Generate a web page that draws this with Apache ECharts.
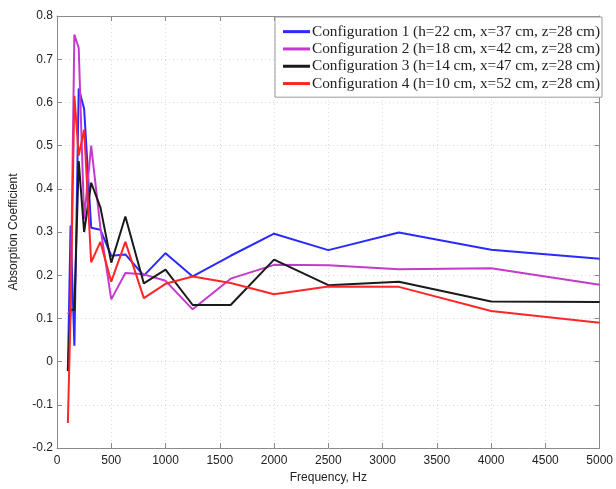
<!DOCTYPE html>
<html>
<head>
<meta charset="utf-8">
<script src="https://cdn.jsdelivr.net/npm/echarts@6/dist/echarts.min.js"></script>
<style>
html,body{margin:0;padding:0;background:#fff;}
#chart{width:616px;height:489px;}
</style>
</head>
<body>
<div id="chart"></div>
<script>
var freqs = [100,125,160,200,250,315,400,500,630,800,1000,1250,1600,2000,2500,3150,4000,5000];
var config1 = [-0.02,0.315,0.037,0.632,0.585,0.31,0.305,0.245,0.248,0.199,0.251,0.197,0.245,0.296,0.258,0.299,0.259,0.238];
var config2 = [0.11,0.12,0.757,0.726,0.33,0.5,0.31,0.144,0.205,0.202,0.187,0.121,0.192,0.224,0.223,0.214,0.216,0.178];
var config3 = [-0.022,0.12,0.12,0.464,0.30,0.414,0.357,0.229,0.336,0.181,0.213,0.131,0.131,0.236,0.177,0.185,0.139,0.138];
var config4 = [-0.142,0.11,0.615,0.477,0.537,0.23,0.277,0.185,0.277,0.147,0.18,0.197,0.182,0.156,0.174,0.173,0.117,0.09];
var seriesNames = [
  'Configuration 1 (h=22 cm, x=37 cm, z=28 cm)',
  'Configuration 2 (h=18 cm, x=42 cm, z=28 cm)',
  'Configuration 3 (h=14 cm, x=47 cm, z=28 cm)',
  'Configuration 4 (h=10 cm, x=52 cm, z=28 cm)'
];
var seriesColors = ['#2a2aff','#c43acc','#1a1a1a','#ff2626'];
var seriesData = [config1, config2, config3, config4];

function pairs(vals){ return freqs.map(function(f,i){ return [f, vals[i]]; }); }

var chart = echarts.init(document.getElementById('chart'), null, {renderer:'canvas'});
var axisColor = '#8a8a8a';
var labelStyle = {color:'#222', fontFamily:'Liberation Sans, Arial, sans-serif', fontSize:12};
var option = {
  animation:false,
  backgroundColor:'#fff',
  grid:{left:56, right:15, top:16, bottom:35},
  legend:{
    orient:'vertical', right:14, top:17,
    backgroundColor:'#fff', borderColor:'#9a9a9a', borderWidth:1,
    padding:[7,2,6,8],
    itemWidth:27, itemHeight:3, itemGap:2,
    icon:'rect',
    textStyle:{fontFamily:'Liberation Serif, Times New Roman, serif', fontSize:15.3, color:'#222', padding:[0,0,0,-3], lineHeight:15.3},
    data:seriesNames
  },
  xAxis:[{
    type:'value', min:0, max:5000, interval:500,
    name:'Frequency, Hz', nameLocation:'middle', nameGap:24,
    nameTextStyle:labelStyle,
    axisLine:{show:true, onZero:false, lineStyle:{color:axisColor}},
    axisTick:{show:true, inside:true, length:5, lineStyle:{color:axisColor}},
    axisLabel:Object.assign({margin:7, formatter:function(v){ return String(v); }}, labelStyle),
    splitLine:{show:true, lineStyle:{color:'#d8d8d8', type:[1,3], width:1}}
  },{
    type:'value', min:0, max:5000, interval:500, position:'top',
    axisLine:{show:true, onZero:false, lineStyle:{color:axisColor}},
    axisTick:{show:true, inside:true, length:5, lineStyle:{color:axisColor}},
    axisLabel:{show:false}, splitLine:{show:false}
  }],
  yAxis:[{
    type:'value', min:-0.2, max:0.8, interval:0.1,
    name:'Absorption Coefficient', nameLocation:'middle', nameGap:37,
    nameTextStyle:labelStyle,
    axisLine:{show:true, onZero:false, lineStyle:{color:axisColor}},
    axisTick:{show:true, inside:true, length:5, lineStyle:{color:axisColor}},
    axisLabel:Object.assign({margin:4, formatter:function(v){ return String(Math.round(v*10)/10); }}, labelStyle),
    splitLine:{show:true, lineStyle:{color:'#d8d8d8', type:[1,3], width:1}}
  },{
    type:'value', min:-0.2, max:0.8, interval:0.1, position:'right',
    axisLine:{show:true, onZero:false, lineStyle:{color:axisColor}},
    axisTick:{show:true, inside:true, length:5, lineStyle:{color:axisColor}},
    axisLabel:{show:false}, splitLine:{show:false}
  }],
  series: seriesNames.map(function(n,i){
    return {
      name:n, type:'line', data:pairs(seriesData[i]),
      symbol:'none', smooth:false,
      lineStyle:{color:seriesColors[i], width:2},
      itemStyle:{color:seriesColors[i]},
      z:2+i
    };
  })
};
chart.setOption(option);
</script>
</body>
</html>
